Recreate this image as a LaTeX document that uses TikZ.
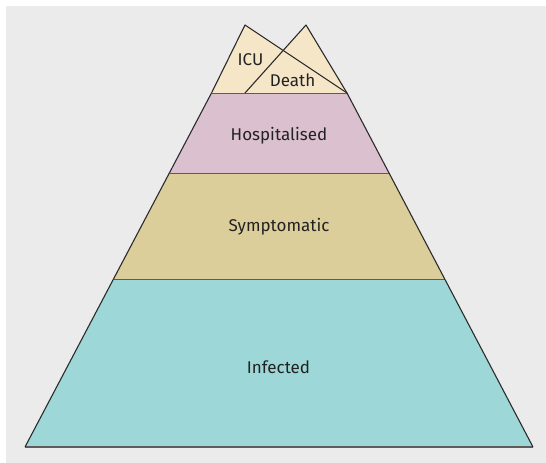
\documentclass[tikz,border=0pt]{standalone}
\usepackage{fontspec}
\setmainfont{Fira Sans}
\usetikzlibrary{calc}
\definecolor{PyBack}{HTML}{EBEBEB}
\definecolor{PyTop}{HTML}{F6E6C8}
\definecolor{PyHosp}{HTML}{DBC1D0}
\definecolor{PySymp}{HTML}{DCCE9A}
\definecolor{PyInf}{HTML}{9DD7D7}
\definecolor{PyEdge}{HTML}{2B2B2B}
\definecolor{PyRule}{HTML}{5C5C5C}
\definecolor{PyInk}{HTML}{222222}
\tikzset{
  edge/.style={PyEdge,line width=1.1pt,line join=round},
  rule/.style={PyRule,line width=1.0pt},
  baserule/.style={PyRule,line width=1.6pt},
  tag/.style={text=PyInk,font=\fontsize{17}{20}\selectfont,inner sep=0pt,anchor=base},
}
\begin{document}
\begin{tikzpicture}[x=1pt,y=-1pt]
  \useasboundingbox (0,0) rectangle (546,463);
  \fill[PyBack] (6,6) rectangle (546,463);

  % corners of the pyramid
  \coordinate (bl) at (25,447);
  \coordinate (br) at (533,447);
  \coordinate (il) at (113.5,279);
  \coordinate (ir) at (444.5,279);
  \coordinate (sl) at (169.5,173);
  \coordinate (sr) at (389,173);
  \coordinate (hl) at (211.5,93);
  \coordinate (hr) at (347,93);
  \coordinate (icu) at (245,25);
  \coordinate (death) at (306,25);
  \coordinate (db) at (245,93);

  \fill[PyInf] (bl) -- (il) -- (ir) -- (br) -- cycle;
  \fill[PySymp] (il) -- (sl) -- (sr) -- (ir) -- cycle;
  \fill[PyHosp] (sl) -- (hl) -- (hr) -- (sr) -- cycle;
  \fill[PyTop] (hl) -- (icu) -- (hr) -- cycle;
  \fill[PyTop] (db) -- (death) -- (hr) -- cycle;

  \draw[rule] (il) -- (ir);
  \draw[rule] (sl) -- (sr);
  \draw[rule] (hl) -- (hr);
  \draw[baserule] (bl) -- (br);
  \draw[edge] (bl) -- (hl);
  \draw[edge] (br) -- (hr);
  \draw[edge] (hl) -- (icu) -- (hr);
  \draw[edge] (db) -- (death) -- (hr);

  \node[tag] (infected) at (278.5,373) {Infected};
  \node[tag] (symptomatic) at (279,231) {Symptomatic};
  \node[tag] (hospitalised) at (279,140) {Hospitalised};
  \node[tag] (icutag) at (250.5,65) {ICU};
  \node[tag] (deathtag) at (292.5,86.5) {Death};
\end{tikzpicture}
\end{document}
